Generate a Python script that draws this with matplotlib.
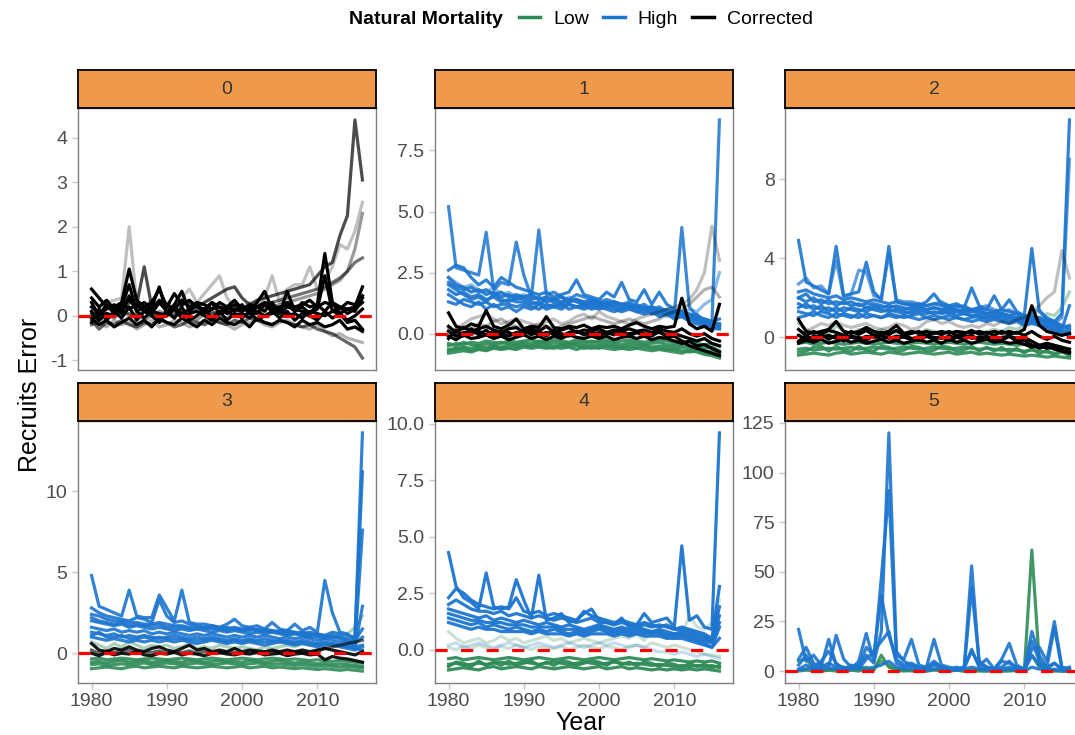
import numpy as np
import matplotlib.pyplot as plt
from matplotlib.lines import Line2D
from matplotlib.ticker import MultipleLocator, FormatStrFormatter

plt.rcParams['font.family'] = ['Liberation Sans', 'DejaVu Sans']
plt.rcParams['axes.unicode_minus'] = False

# -----------------------------
# data, years 1980-2016
# -----------------------------
years = list(range(1980, 2017))

# panel 0 : only corrected runs
p0_c1 = [0.60, 0.40, 0.20, 0.20, 0.30, 1.05, 0.35, 0.20, 0.30, 0.60,
         0.20, 0.50, 0.25, 0.35, 0.20, 0.15, 0.30, 0.20, 0.15, 0.25,
         0.20, 0.10, 0.30, 0.55, 0.15, 0.20, 0.25, 0.10, 0.30, 0.20,
         0.25, 1.40, 0.30, 0.20, 0.15, 0.20, 0.65]
p0_c2 = [0.10, -0.10, 0.05, 0.00, 0.20, 0.70, 0.10, -0.05, 0.10, 0.05,
         0.00, 0.15, -0.05, 0.05, 0.10, 0.00, -0.10, 0.05, 0.10, 0.00,
         0.05, -0.05, 0.10, 0.00, 0.05, 0.15, 0.00, 0.05, -0.05, 0.10,
         0.05, 0.00, 0.10, 0.05, -0.10, 0.00, 0.15]
p0_c3 = [-0.15, 0.15, -0.10, 0.10, -0.05, 0.20, -0.10, 0.10, 0.00, -0.15,
         0.10, -0.05, 0.20, -0.10, 0.00, 0.15, -0.05, 0.10, -0.10, 0.05,
         -0.05, 0.10, -0.10, 0.00, 0.10, -0.05, 0.10, -0.10, 0.05, 0.00,
         -0.10, 0.10, -0.05, 0.05, -0.15, -0.10, -0.30]
p0_c4 = [0.30, 0.00, 0.25, 0.05, 0.30, 0.15, 0.25, 0.10, 0.20, 0.65,
         0.05, 0.25, 0.55, 0.10, 0.25, 0.10, 0.30, 0.05, 0.20, 0.10,
         0.25, 0.05, 0.20, 0.10, 0.30, 0.05, 0.55, 0.10, 0.20, 0.05,
         0.25, 0.10, 0.30, 0.05, 0.15, 0.10, 0.40]
p0_c5 = [0.05, -0.10, 0.20, 0.15, 0.10, 0.30, 0.25, 1.10, 0.20, 0.30,
         0.15, 0.20, 0.25, 0.30, 0.20, 0.30, 0.40, 0.50, 0.60, 0.65,
         0.40, 0.25, 0.35, 0.40, 0.45, 0.50, 0.55, 0.60, 0.65, 0.70,
         0.90, 1.10, 1.20, 1.80, 2.25, 4.40, 3.05]
p0_c6 = [0.20, 0.10, 0.30, 0.35, 0.40, 2.00, 0.30, 0.20, 0.35, 0.25,
         0.30, 0.20, 0.40, 0.60, 0.30, 0.50, 0.70, 0.90, 0.40, 0.20,
         0.10, 0.30, 0.20, 0.40, 0.90, 0.30, 0.60, 0.70, 0.70, 1.10,
         0.60, 0.80, 1.10, 1.60, 1.50, 1.90, 2.55]
p0_c7 = [-0.20, -0.10, 0.00, -0.05, 0.10, 0.00, 0.05, -0.10, 0.00, 0.10,
         0.05, -0.05, 0.10, 0.00, -0.10, 0.05, 0.10, 0.00, -0.05, 0.10,
         0.05, 0.00, 0.10, 0.15, 0.20, 0.25, 0.30, 0.35, 0.40, 0.45,
         0.50, 0.60, 0.70, 0.80, 1.00, 1.50, 2.30]
p0_c8 = [0.00, 0.10, 0.05, 0.00, 0.10, 0.05, 0.00, 0.10, 0.05, 0.00,
         0.10, 0.05, 0.00, 0.10, 0.15, 0.10, 0.05, 0.10, 0.15, 0.20,
         0.15, 0.10, 0.20, 0.25, 0.30, 0.35, 0.40, 0.45, 0.50, 0.55,
         0.60, 0.65, 0.75, 0.85, 1.00, 1.20, 1.30]
p0_c9 = [-0.10, -0.30, -0.15, -0.20, -0.10, -0.20, -0.25, -0.15, -0.20, -0.10,
         -0.15, -0.25, -0.20, -0.10, -0.15, -0.20, -0.10, -0.15, -0.20, -0.10,
         -0.15, -0.05, -0.10, -0.15, -0.20, -0.10, -0.15, -0.20, -0.25, -0.20,
         -0.30, -0.35, -0.40, -0.50, -0.60, -0.70, -0.95]
p0_c10 = [-0.20, -0.15, -0.25, -0.10, -0.20, -0.15, -0.30, -0.20, -0.10, -0.25,
          -0.20, -0.10, -0.15, -0.25, -0.20, -0.10, -0.05, -0.15, -0.20, -0.30,
          -0.20, -0.15, -0.10, -0.20, -0.25, -0.15, -0.10, -0.20, -0.25, -0.30,
          -0.20, -0.35, -0.45, -0.40, -0.50, -0.55, -0.60]
p0_c11 = [0.40, 0.20, 0.35, 0.15, 0.25, 0.35, 0.20, 0.30, 0.15, 0.35,
          0.25, 0.15, 0.35, 0.20, 0.30, 0.25, 0.15, 0.30, 0.20, 0.35,
          0.15, 0.25, 0.20, 0.30, 0.25, 0.15, 0.30, 0.20, 0.25, 0.35,
          0.20, 0.30, 0.25, 0.15, 0.30, 0.25, 0.45]
p0_c12 = [-0.05, -0.20, -0.10, -0.25, -0.15, -0.05, -0.20, -0.10, -0.25, -0.05,
          -0.15, -0.20, -0.05, -0.15, -0.25, -0.10, -0.20, -0.05, -0.15, -0.20,
          -0.10, -0.25, -0.05, -0.15, -0.20, -0.10, -0.15, -0.25, -0.10, -0.20,
          -0.15, -0.25, -0.20, -0.10, -0.30, -0.25, -0.35]
p0_c13 = [0.20, 0.05, 0.15, 0.25, 0.05, 0.45, 0.10, 0.20, 0.05, 0.30,
          0.10, 0.20, 0.05, 0.15, 0.25, 0.05, 0.15, 0.20, 0.05, 0.15,
          0.10, 0.20, 0.05, 0.25, 0.10, 0.05, 0.20, 0.15, 0.10, 0.05,
          0.15, 0.90, 0.10, 0.20, 0.05, 0.15, 0.30]

# panel 1
p1_h1 = [5.20, 2.70, 2.60, 2.50, 2.40, 4.15, 1.80, 2.10, 2.00, 3.75,
         2.40, 1.50, 4.25, 1.60, 1.70, 1.50, 1.40, 1.60, 1.50, 1.40,
         1.30, 1.40, 1.30, 1.20, 1.30, 1.10, 1.20, 1.00, 1.10, 0.90,
         0.80, 4.35, 1.10, 0.70, 0.50, 0.40, 8.75]
p1_h2 = [2.60, 2.80, 2.70, 2.30, 2.00, 2.20, 1.90, 2.30, 2.10, 1.90,
         1.80, 1.70, 1.60, 1.70, 1.50, 1.60, 1.70, 2.20, 1.60, 1.50,
         1.40, 1.70, 1.50, 2.10, 1.40, 1.30, 1.80, 1.20, 1.70, 1.20,
         1.00, 0.90, 0.80, 0.70, 0.60, 0.50, 0.40]
p1_h3 = [2.00, 1.80, 1.60, 1.40, 1.50, 1.30, 1.60, 1.40, 1.30, 1.50,
         1.40, 1.30, 1.20, 1.40, 1.30, 1.20, 1.30, 1.40, 1.20, 1.30,
         1.20, 1.10, 1.30, 1.20, 1.10, 1.20, 1.00, 1.10, 1.00, 0.90,
         0.80, 0.90, 0.70, 0.80, 0.50, 0.40, 0.30]
p1_h4 = [1.60, 1.40, 1.20, 1.10, 1.30, 1.00, 1.20, 1.00, 1.10, 0.90,
         1.10, 1.00, 1.20, 1.00, 1.10, 1.20, 1.00, 1.10, 1.20, 1.00,
         1.10, 1.00, 0.90, 1.00, 1.10, 0.90, 0.80, 0.90, 0.70, 0.80,
         0.60, 0.70, 0.50, 0.40, 0.30, 0.20, 0.20]
p1_h5 = [2.30, 2.10, 1.90, 2.00, 1.80, 1.70, 1.90, 1.60, 1.70, 1.50,
         1.60, 1.50, 1.40, 1.50, 1.40, 1.30, 1.50, 1.40, 1.30, 1.20,
         1.30, 1.20, 1.10, 1.20, 1.00, 1.10, 1.00, 0.90, 1.00, 0.70,
         0.90, 0.80, 1.00, 0.90, 1.20, 1.40, 2.50]
p1_h6 = [2.30, 2.00, 1.90, 1.70, 1.80, 1.60, 1.70, 1.50, 1.60, 1.40,
         1.50, 1.40, 1.50, 1.30, 1.40, 1.30, 1.40, 1.30, 1.20, 1.30,
         1.20, 1.30, 1.20, 1.10, 1.20, 1.10, 1.00, 1.10, 0.90, 1.00,
         0.90, 0.80, 0.70, 0.60, 0.50, 0.40, 0.30]
p1_h7 = [1.30, 1.20, 1.40, 1.30, 1.20, 1.30, 1.10, 1.20, 1.20, 1.10,
         1.20, 1.10, 1.00, 1.20, 1.10, 1.00, 1.20, 1.10, 1.00, 1.10,
         1.00, 1.10, 1.00, 0.90, 1.00, 0.90, 1.00, 0.80, 0.90, 0.80,
         0.70, 0.80, 0.60, 0.50, 0.40, 0.30, 0.40]
p1_h8 = [1.80, 1.60, 1.70, 1.50, 1.60, 1.40, 1.50, 1.30, 1.40, 1.30,
         1.30, 1.20, 1.30, 1.10, 1.20, 1.10, 1.20, 1.10, 1.10, 1.20,
         1.10, 1.20, 1.10, 1.00, 1.10, 1.00, 0.90, 1.00, 0.80, 0.90,
         0.80, 0.70, 0.60, 0.60, 0.40, 0.30, 0.20]
p1_h9 = [2.10, 1.90, 1.80, 1.90, 1.70, 1.80, 1.60, 1.70, 1.50, 1.60,
         1.50, 1.60, 1.40, 1.50, 1.40, 1.50, 1.30, 1.40, 1.30, 1.40,
         1.30, 1.20, 1.30, 1.20, 1.20, 1.10, 1.10, 1.00, 1.00, 0.90,
         0.90, 0.80, 0.80, 0.70, 0.60, 0.50, 0.60]
p1_l1 = [-0.50, -0.40, -0.45, -0.35, -0.40, -0.30, -0.35, -0.40, -0.30, -0.35,
         -0.30, -0.25, -0.35, -0.30, -0.25, -0.30, -0.35, -0.25, -0.30, -0.35,
         -0.30, -0.25, -0.35, -0.30, -0.25, -0.30, -0.35, -0.30, -0.25, -0.30,
         -0.40, -0.30, -0.35, -0.40, -0.45, -0.40, -0.50]
p1_l2 = [-0.65, -0.60, -0.55, -0.60, -0.50, -0.55, -0.50, -0.55, -0.45, -0.50,
         -0.45, -0.50, -0.40, -0.45, -0.50, -0.45, -0.40, -0.45, -0.50, -0.45,
         -0.50, -0.45, -0.50, -0.55, -0.45, -0.50, -0.45, -0.55, -0.50, -0.55,
         -0.60, -0.55, -0.65, -0.60, -0.75, -0.70, -0.80]
p1_l3 = [-0.80, -0.75, -0.70, -0.75, -0.65, -0.70, -0.60, -0.65, -0.60, -0.65,
         -0.55, -0.60, -0.55, -0.60, -0.55, -0.60, -0.55, -0.65, -0.55, -0.60,
         -0.55, -0.60, -0.65, -0.60, -0.65, -0.60, -0.65, -0.70, -0.65, -0.70,
         -0.75, -0.80, -0.70, -0.75, -0.85, -0.90, -1.00]
p1_l4 = [-0.40, -0.50, -0.35, -0.45, -0.50, -0.40, -0.45, -0.35, -0.40, -0.45,
         -0.35, -0.40, -0.30, -0.40, -0.35, -0.40, -0.45, -0.35, -0.40, -0.30,
         -0.40, -0.35, -0.40, -0.45, -0.35, -0.40, -0.45, -0.40, -0.35, -0.45,
         -0.50, -0.45, -0.50, -0.55, -0.60, -0.55, -0.70]
p1_l5 = [-0.70, -0.65, -0.60, -0.70, -0.60, -0.65, -0.55, -0.60, -0.55, -0.60,
         -0.50, -0.55, -0.50, -0.55, -0.60, -0.50, -0.55, -0.50, -0.60, -0.55,
         -0.60, -0.50, -0.55, -0.60, -0.55, -0.60, -0.55, -0.60, -0.60, -0.65,
         -0.65, -0.70, -0.75, -0.70, -0.80, -0.85, -0.90]
p1_c1 = [0.85, 0.30, 0.20, 0.40, 0.30, 0.95, 0.30, 0.20, 0.35, 0.60,
         0.20, 0.30, 0.25, 0.70, 0.25, 0.20, 0.30, 0.25, 0.35, 0.20,
         0.30, 0.25, 0.30, 0.20, 0.35, 0.45, 0.30, 0.20, 0.30, 0.25,
         0.30, 1.45, 0.40, 0.20, 0.30, 0.10, 1.20]
p1_c2 = [0.10, -0.10, 0.05, 0.00, 0.10, -0.05, 0.10, 0.00, -0.10, 0.05,
         0.00, 0.10, -0.05, 0.05, 0.00, -0.10, 0.05, 0.10, 0.00, -0.05,
         0.05, 0.00, 0.10, -0.05, 0.00, 0.05, -0.10, 0.00, 0.05, -0.05,
         0.00, -0.10, -0.20, -0.30, -0.20, -0.40, -0.50]
p1_c3 = [-0.20, 0.15, -0.10, 0.20, -0.05, 0.15, -0.15, 0.10, 0.05, -0.10,
         0.15, -0.05, 0.10, -0.10, 0.15, 0.00, -0.10, 0.10, -0.05, 0.10,
         -0.10, 0.05, -0.05, 0.15, -0.10, 0.05, 0.00, -0.10, 0.10, -0.15,
         -0.10, -0.30, -0.50, -0.60, -0.70, -0.80, -0.90]
p1_c4 = [0.00, 0.20, 0.40, 0.60, 0.70, 0.80, 0.60, 0.40, 0.50, 0.60,
         0.50, 0.40, 0.30, 0.50, 0.60, 0.40, 0.50, 0.70, 0.80, 0.60,
         0.90, 0.70, 0.60, 0.50, 0.40, 0.60, 0.70, 0.80, 0.90, 1.00,
         1.10, 1.20, 1.40, 1.80, 2.50, 4.40, 3.00]
p1_c5 = [0.20, 0.10, 0.30, 0.20, 0.40, 0.30, 0.50, 0.60, 0.40, 0.30,
         0.20, 0.30, 0.40, 0.30, 0.20, 0.30, 0.40, 0.50, 0.60, 0.70,
         0.60, 0.50, 0.40, 0.50, 0.60, 0.50, 0.40, 0.50, 0.60, 0.80,
         0.90, 1.00, 1.20, 1.50, 1.80, 1.90, 1.50]
p1_c6 = [0.30, 0.05, 0.25, 0.10, 0.20, 0.30, 0.15, 0.05, 0.20, 0.25,
         0.05, 0.20, 0.10, 0.30, 0.05, 0.15, 0.25, 0.05, 0.15, 0.10,
         0.20, 0.05, 0.15, 0.10, 0.20, 0.10, 0.15, 0.05, 0.20, 0.10,
         0.05, 0.20, 0.00, -0.10, 0.00, -0.20, -0.30]
p1_c7 = [-0.10, -0.25, -0.05, -0.20, -0.15, -0.05, -0.20, -0.10, -0.25, -0.15,
         -0.05, -0.20, -0.10, -0.25, -0.10, -0.20, -0.05, -0.15, -0.20, -0.10,
         -0.20, -0.10, -0.25, -0.15, -0.10, -0.20, -0.10, -0.25, -0.15, -0.20,
         -0.30, -0.40, -0.30, -0.50, -0.45, -0.60, -0.75]

# panel 2
p2_h1 = [4.90, 2.80, 2.60, 2.40, 2.20, 4.60, 2.10, 2.20, 2.30, 3.80,
         2.30, 1.90, 4.60, 1.80, 1.70, 1.70, 1.60, 1.80, 2.20, 1.70,
         1.60, 1.70, 1.50, 2.50, 1.60, 1.40, 2.10, 1.40, 1.90, 1.30,
         1.10, 4.50, 1.30, 1.00, 0.80, 1.20, 11.00]
p2_h2 = [2.70, 3.00, 2.50, 2.60, 2.20, 3.90, 2.00, 2.20, 3.40, 3.30,
         2.10, 2.00, 4.20, 1.90, 1.80, 1.80, 1.70, 1.60, 1.70, 1.80,
         1.60, 1.50, 1.60, 1.40, 1.50, 1.60, 1.40, 1.30, 1.40, 1.20,
         1.00, 1.20, 1.40, 0.90, 0.70, 1.00, 9.00]
p2_h3 = [2.00, 1.80, 2.00, 1.70, 1.90, 1.60, 1.80, 1.60, 1.70, 1.50,
         1.60, 1.50, 1.60, 1.50, 1.40, 1.50, 1.60, 1.40, 1.50, 1.40,
         1.50, 1.30, 1.40, 1.30, 1.40, 1.20, 1.30, 1.20, 1.10, 1.20,
         1.00, 1.10, 0.90, 0.80, 0.70, 0.50, 0.40]
p2_h4 = [1.30, 1.20, 1.10, 1.30, 1.20, 1.00, 1.20, 1.10, 1.00, 1.20,
         1.10, 1.00, 1.20, 1.10, 1.00, 1.10, 1.20, 1.00, 1.10, 1.00,
         1.10, 1.00, 0.90, 1.00, 1.10, 0.90, 1.00, 0.90, 0.80, 0.90,
         0.70, 0.80, 0.60, 0.50, 0.40, 0.30, 0.20]
p2_h5 = [1.70, 1.50, 1.60, 1.40, 1.50, 1.30, 1.50, 1.40, 1.30, 1.50,
         1.40, 1.30, 1.40, 1.30, 1.20, 1.30, 1.40, 1.30, 1.20, 1.30,
         1.20, 1.30, 1.20, 1.10, 1.20, 1.10, 1.00, 1.10, 1.00, 0.90,
         0.80, 0.90, 0.80, 0.70, 0.60, 0.40, 1.60]
p2_h6 = [2.30, 2.40, 2.20, 2.10, 2.00, 2.10, 1.90, 2.00, 1.90, 1.80,
         1.90, 1.80, 1.70, 1.80, 1.70, 1.60, 1.70, 1.60, 1.70, 1.60,
         1.50, 1.60, 1.50, 1.40, 1.50, 1.40, 1.30, 1.40, 1.30, 1.20,
         1.10, 1.00, 1.00, 0.90, 0.80, 0.60, 0.50]
p2_h7 = [1.00, 1.10, 1.30, 1.10, 1.00, 1.20, 1.10, 1.00, 1.20, 1.00,
         1.10, 1.00, 1.10, 1.00, 1.10, 1.00, 0.90, 1.00, 0.90, 1.00,
         0.90, 1.00, 0.90, 0.80, 0.90, 0.80, 0.90, 0.80, 0.70, 0.80,
         0.60, 0.70, 0.60, 0.50, 0.30, 0.20, 0.10]
p2_h8 = [1.50, 1.70, 1.40, 1.60, 1.30, 1.50, 1.30, 1.50, 1.40, 1.30,
         1.50, 1.40, 1.30, 1.40, 1.30, 1.20, 1.30, 1.20, 1.30, 1.20,
         1.30, 1.10, 1.20, 1.10, 1.00, 1.00, 1.10, 1.00, 0.90, 1.00,
         0.90, 0.80, 0.70, 0.60, 0.50, 0.30, 0.30]
p2_h9 = [2.00, 2.20, 1.80, 1.90, 1.70, 1.80, 1.70, 1.80, 1.60, 1.70,
         1.70, 1.60, 1.50, 1.60, 1.50, 1.40, 1.50, 1.40, 1.50, 1.40,
         1.40, 1.40, 1.30, 1.30, 1.30, 1.20, 1.20, 1.20, 1.10, 1.00,
         1.00, 0.90, 0.90, 0.80, 0.70, 0.50, 0.60]
p2_l1 = [-0.30, -0.25, -0.35, -0.30, -0.25, -0.30, -0.35, -0.30, -0.25, -0.30,
         -0.35, -0.30, -0.25, -0.30, -0.35, -0.30, -0.25, -0.30, -0.35, -0.30,
         -0.25, -0.30, -0.35, -0.30, -0.25, -0.30, -0.35, -0.30, -0.35, -0.40,
         -0.35, -0.40, -0.45, -0.50, -0.45, -0.55, -0.60]
p2_l2 = [-0.60, -0.55, -0.65, -0.60, -0.55, -0.60, -0.55, -0.50, -0.60, -0.55,
         -0.50, -0.55, -0.60, -0.55, -0.50, -0.55, -0.60, -0.55, -0.50, -0.55,
         -0.60, -0.55, -0.50, -0.55, -0.60, -0.55, -0.60, -0.65, -0.60, -0.65,
         -0.70, -0.65, -0.70, -0.75, -0.80, -0.75, -0.85]
p2_l3 = [-0.90, -0.85, -0.80, -0.85, -0.90, -0.80, -0.75, -0.85, -0.80, -0.75,
         -0.80, -0.85, -0.75, -0.80, -0.85, -0.80, -0.75, -0.80, -0.85, -0.80,
         -0.75, -0.85, -0.80, -0.75, -0.85, -0.80, -0.85, -0.90, -0.85, -0.90,
         -0.95, -0.90, -0.95, -1.00, -0.95, -1.00, -1.05]
p2_l4 = [0.70, 0.40, 0.20, 0.30, 0.10, 0.60, 0.30, 0.20, 0.40, 0.30,
         0.20, 0.40, 0.30, 0.20, 0.10, 0.30, 0.20, 0.40, 0.30, 0.20,
         0.30, 0.20, 0.10, 0.30, 0.20, 0.30, 0.40, 0.30, 0.50, 0.40,
         0.60, 0.80, 1.00, 1.20, 1.10, 1.50, 2.30]
p2_l5 = [-0.75, -0.70, -0.50, -0.45, -0.70, -0.45, -0.65, -0.70, -0.45, -0.65,
         -0.70, -0.45, -0.50, -0.70, -0.65, -0.45, -0.50, -0.70, -0.65, -0.45,
         -0.50, -0.70, -0.65, -0.45, -0.70, -0.50, -0.70, -0.50, -0.75, -0.55,
         -0.80, -0.55, -0.85, -0.65, -0.90, -0.70, -0.95]
p2_c1 = [0.90, 0.30, 0.20, 0.30, 0.40, 0.80, 0.30, 0.20, 0.30, 0.50,
         0.30, 0.20, 0.30, 0.60, 0.20, 0.30, 0.20, 0.30, 0.20, 0.30,
         0.20, 0.30, 0.25, 0.20, 0.30, 0.20, 0.30, 0.20, 0.30, 0.20,
         0.40, 1.60, 0.60, 0.30, 0.20, 0.10, 0.20]
p2_c2 = [0.10, -0.10, 0.05, 0.00, 0.10, -0.05, 0.10, 0.00, -0.10, 0.05,
         0.00, 0.10, -0.05, 0.05, 0.00, -0.10, 0.05, 0.10, 0.00, -0.05,
         0.05, 0.00, 0.10, -0.05, 0.00, 0.05, -0.10, 0.00, 0.05, -0.05,
         0.00, -0.20, -0.40, -0.30, -0.40, -0.50, -0.60]
p2_c3 = [-0.20, 0.10, -0.15, 0.15, -0.10, 0.10, -0.20, 0.05, 0.00, -0.15,
         0.10, -0.10, 0.05, -0.15, 0.10, -0.05, -0.15, 0.05, -0.10, 0.05,
         -0.15, 0.00, -0.10, 0.10, -0.15, 0.00, -0.05, -0.15, 0.05, -0.20,
         -0.15, -0.40, -0.55, -0.45, -0.60, -0.70, -0.80]
p2_c4 = [0.10, 0.30, 0.50, 0.70, 0.60, 0.80, 0.60, 0.50, 0.60, 0.70,
         0.50, 0.40, 0.50, 0.70, 0.60, 0.40, 0.50, 0.80, 0.90, 0.70,
         0.80, 0.60, 0.50, 0.60, 0.50, 0.70, 0.60, 0.80, 0.70, 0.90,
         1.00, 1.30, 1.60, 2.00, 2.30, 4.40, 3.00]
p2_c5 = [0.40, 0.10, 0.30, 0.15, 0.35, 0.25, 0.10, 0.30, 0.15, 0.35,
         0.10, 0.25, 0.15, 0.35, 0.10, 0.20, 0.30, 0.10, 0.25, 0.15,
         0.30, 0.10, 0.20, 0.35, 0.15, 0.25, 0.10, 0.30, 0.15, 0.25,
         0.10, 0.30, 0.05, -0.10, 0.05, -0.15, -0.25]
p2_c6 = [-0.30, -0.15, -0.25, -0.10, -0.30, -0.20, -0.10, -0.25, -0.15, -0.30,
         -0.20, -0.10, -0.25, -0.15, -0.30, -0.20, -0.10, -0.25, -0.15, -0.30,
         -0.10, -0.25, -0.15, -0.30, -0.20, -0.10, -0.25, -0.20, -0.30, -0.25,
         -0.35, -0.50, -0.40, -0.55, -0.50, -0.65, -0.75]

# panel 3
p3_h1 = [4.80, 2.90, 2.70, 2.50, 2.30, 3.90, 2.30, 2.20, 2.20, 3.60,
         2.80, 2.00, 3.90, 1.90, 1.80, 1.80, 1.70, 1.60, 1.80, 2.10,
         1.70, 1.60, 1.70, 1.50, 1.90, 1.50, 1.40, 1.80, 1.40, 1.60,
         1.30, 4.50, 2.50, 1.30, 1.20, 0.80, 13.60]
p3_h2 = [2.80, 2.50, 2.30, 2.20, 2.10, 2.00, 2.20, 2.10, 1.90, 3.30,
         2.30, 1.90, 2.00, 1.80, 1.70, 1.60, 1.70, 1.60, 1.50, 1.60,
         1.50, 1.60, 1.40, 1.50, 1.40, 1.30, 1.40, 1.30, 1.20, 1.30,
         1.20, 1.10, 1.30, 1.20, 1.10, 1.00, 11.20]
p3_h3 = [2.00, 1.90, 1.80, 1.70, 1.80, 1.60, 1.70, 1.60, 1.50, 1.60,
         1.50, 1.40, 1.50, 1.40, 1.50, 1.40, 1.30, 1.40, 1.30, 1.40,
         1.30, 1.20, 1.30, 1.20, 1.30, 1.20, 1.10, 1.20, 1.10, 1.00,
         1.00, 0.90, 1.00, 0.90, 0.70, 0.50, 7.60]
p3_h4 = [1.30, 1.20, 1.10, 1.20, 1.00, 1.10, 1.00, 1.10, 1.00, 0.90,
         1.00, 1.10, 1.00, 0.90, 1.00, 0.90, 1.00, 0.90, 0.80, 0.90,
         0.80, 0.90, 0.80, 0.90, 0.80, 0.70, 0.80, 0.70, 0.80, 0.70,
         0.60, 0.70, 0.60, 0.50, 0.40, 0.30, 2.90]
p3_h5 = [1.00, 0.90, 0.80, 0.90, 0.80, 0.70, 0.80, 0.70, 0.80, 0.70,
         0.80, 0.70, 0.80, 0.70, 0.60, 0.70, 0.80, 0.70, 0.60, 0.70,
         0.60, 0.70, 0.60, 0.50, 0.60, 0.70, 0.60, 0.50, 0.60, 0.50,
         0.40, 0.50, 0.60, 0.50, 0.40, 0.30, 0.20]
p3_h6 = [2.40, 2.30, 2.10, 2.00, 2.00, 1.90, 1.90, 1.80, 1.80, 1.90,
         1.80, 1.70, 1.70, 1.60, 1.60, 1.50, 1.60, 1.50, 1.60, 1.50,
         1.40, 1.50, 1.40, 1.40, 1.30, 1.40, 1.30, 1.20, 1.30, 1.20,
         1.10, 1.10, 1.00, 1.00, 0.90, 0.80, 1.50]
p3_h7 = [1.60, 1.50, 1.40, 1.50, 1.30, 1.40, 1.30, 1.40, 1.20, 1.30,
         1.20, 1.30, 1.20, 1.10, 1.20, 1.10, 1.20, 1.10, 1.00, 1.10,
         1.00, 1.10, 1.00, 1.10, 1.00, 0.90, 1.00, 0.90, 1.00, 0.90,
         0.80, 0.90, 0.80, 0.70, 0.60, 0.40, 0.50]
p3_h8 = [2.20, 2.00, 1.90, 1.80, 1.90, 1.70, 1.80, 1.70, 1.70, 1.80,
         1.60, 1.60, 1.60, 1.50, 1.50, 1.60, 1.50, 1.50, 1.40, 1.50,
         1.40, 1.40, 1.50, 1.30, 1.40, 1.30, 1.20, 1.30, 1.20, 1.10,
         1.20, 1.00, 1.10, 1.00, 0.80, 0.60, 1.00]
p3_h9 = [1.10, 1.30, 1.00, 1.00, 1.10, 0.90, 0.90, 1.00, 0.90, 1.00,
         0.90, 0.90, 0.90, 0.80, 0.80, 0.80, 0.90, 0.80, 0.70, 0.80,
         0.70, 0.80, 0.70, 0.70, 0.70, 0.80, 0.70, 0.60, 0.70, 0.60,
         0.50, 0.60, 0.50, 0.40, 0.30, 0.20, 0.40]
p3_l1 = [-0.35, -0.30, -0.40, -0.35, -0.30, -0.35, -0.40, -0.35, -0.30, -0.35,
         -0.40, -0.35, -0.30, -0.35, -0.40, -0.35, -0.30, -0.35, -0.40, -0.35,
         -0.30, -0.35, -0.40, -0.35, -0.30, -0.35, -0.40, -0.35, -0.40, -0.45,
         -0.40, -0.45, -0.50, -0.45, -0.50, -0.55, -0.60]
p3_l2 = [-0.70, -0.65, -0.75, -0.70, -0.65, -0.70, -0.65, -0.60, -0.70, -0.65,
         -0.60, -0.65, -0.70, -0.65, -0.60, -0.65, -0.70, -0.65, -0.60, -0.65,
         -0.70, -0.65, -0.60, -0.65, -0.70, -0.65, -0.70, -0.75, -0.70, -0.75,
         -0.80, -0.75, -0.80, -0.85, -0.80, -0.85, -0.90]
p3_l3 = [-0.95, -0.90, -0.85, -0.90, -0.95, -0.85, -0.80, -0.90, -0.85, -0.80,
         -0.85, -0.90, -0.80, -0.85, -0.90, -0.85, -0.80, -0.85, -0.90, -0.85,
         -0.80, -0.90, -0.85, -0.80, -0.90, -0.85, -0.90, -0.95, -0.90, -0.95,
         -1.00, -0.95, -1.00, -1.05, -1.00, -1.05, -1.10]
p3_l4 = [0.70, 0.50, 0.30, 0.60, 0.40, 0.70, 0.50, 0.30, 0.50, 0.40,
         0.50, 0.30, 0.40, 0.60, 0.30, 0.40, 0.30, 0.50, 0.40, 0.30,
         0.40, 0.30, 0.20, 0.40, 0.30, 0.40, 0.50, 0.40, 0.60, 0.50,
         0.60, 0.90, 1.20, 1.10, 1.20, 1.60, 2.30]
p3_l5 = [-0.55, -0.50, -0.60, -0.50, -0.45, -0.55, -0.50, -0.45, -0.55, -0.50,
         -0.45, -0.50, -0.55, -0.45, -0.50, -0.55, -0.50, -0.45, -0.55, -0.50,
         -0.55, -0.45, -0.50, -0.55, -0.50, -0.45, -0.55, -0.60, -0.55, -0.60,
         -0.65, -0.60, -0.70, -0.65, -0.70, -0.75, -0.80]
p3_c1 = [0.60, 0.20, 0.10, 0.30, 0.20, 0.40, 0.20, 0.10, 0.30, 0.40,
         0.20, 0.10, 0.30, 0.50, 0.20, 0.30, 0.10, 0.20, 0.10, 0.30,
         0.10, 0.20, 0.15, 0.10, 0.20, 0.10, 0.20, 0.10, 0.20, 0.10,
         0.20, 0.30, 0.20, 0.10, 0.00, -0.10, 0.10]
p3_c2 = [0.00, -0.15, 0.05, -0.10, 0.00, -0.05, 0.10, -0.10, -0.15, 0.00,
         -0.05, 0.05, -0.10, 0.00, -0.05, -0.15, 0.00, 0.05, -0.05, -0.10,
         0.00, -0.05, 0.05, -0.10, -0.05, 0.00, -0.15, -0.05, 0.00, -0.10,
         -0.05, -0.40, -0.20, -0.30, -0.35, -0.45, -0.55]
p3_c3 = [0.20, 0.00, 0.15, 0.05, 0.10, 0.20, 0.00, 0.10, 0.05, 0.15,
         0.00, 0.10, 0.05, 0.15, 0.00, 0.10, 0.05, 0.00, 0.10, 0.05,
         0.00, 0.10, 0.05, 0.00, 0.10, 0.05, 0.00, 0.10, 0.05, 0.00,
         0.10, 0.30, 0.40, 0.50, 0.60, 0.70, 0.80]

# panel 4
p4_h1 = [4.30, 2.80, 2.30, 2.10, 1.80, 3.40, 1.90, 1.80, 1.90, 3.10,
         2.20, 1.40, 3.30, 1.30, 1.40, 1.60, 1.20, 1.30, 1.60, 1.80,
         1.30, 1.20, 1.10, 1.40, 1.00, 1.10, 1.60, 1.20, 1.30, 1.40,
         1.00, 4.60, 1.30, 1.50, 1.00, 0.90, 9.60]
p4_h2 = [2.30, 2.70, 2.50, 2.20, 2.00, 1.90, 1.80, 1.90, 1.80, 2.30,
         1.70, 1.60, 1.70, 1.50, 1.60, 1.50, 1.40, 1.30, 1.70, 1.50,
         1.40, 1.30, 1.20, 1.30, 1.20, 1.10, 1.20, 1.10, 1.00, 1.10,
         0.90, 1.00, 0.90, 0.80, 0.70, 0.50, 2.80]
p4_h3 = [1.80, 1.70, 1.60, 1.50, 1.40, 1.50, 1.30, 1.40, 1.30, 1.20,
         1.30, 1.20, 1.10, 1.20, 1.10, 1.00, 1.10, 1.00, 0.90, 1.00,
         1.10, 1.00, 0.90, 1.00, 0.90, 1.00, 0.90, 0.80, 0.90, 0.80,
         0.70, 0.80, 0.70, 0.60, 0.50, 0.40, 1.90]
p4_h4 = [1.40, 1.30, 1.20, 1.10, 1.20, 1.00, 1.10, 1.00, 0.90, 1.00,
         0.90, 0.80, 0.90, 0.80, 0.90, 0.80, 0.70, 0.80, 0.70, 0.80,
         0.90, 0.80, 0.70, 0.80, 0.70, 0.80, 0.70, 0.80, 0.70, 0.60,
         0.70, 0.60, 0.50, 0.40, 0.30, 0.10, 1.00]
p4_h5 = [0.20, 0.30, 0.10, 0.20, 0.30, 0.20, 0.10, 0.20, 0.30, 0.20,
         0.10, 0.20, 0.30, 0.20, 0.10, 0.20, 0.30, 0.20, 0.10, 0.20,
         0.30, 0.20, 0.30, 0.20, 0.10, 0.20, 0.10, 0.00, -0.10, -0.10,
         -0.20, -0.10, -0.20, -0.30, -0.20, -0.30, -0.40]
p4_h6 = [2.00, 2.20, 2.00, 1.80, 1.70, 1.70, 1.60, 1.70, 1.50, 1.60,
         1.50, 1.40, 1.50, 1.40, 1.30, 1.40, 1.30, 1.20, 1.30, 1.40,
         1.20, 1.20, 1.10, 1.20, 1.10, 1.00, 1.10, 1.00, 1.10, 1.00,
         0.90, 0.90, 0.80, 0.70, 0.60, 0.40, 1.50]
p4_h7 = [1.60, 1.50, 1.40, 1.30, 1.30, 1.20, 1.20, 1.20, 1.10, 1.10,
         1.10, 1.00, 1.00, 1.00, 1.00, 0.90, 0.90, 0.90, 0.80, 0.90,
         1.00, 0.90, 0.80, 0.90, 0.80, 0.90, 0.80, 0.70, 0.80, 0.70,
         0.60, 0.70, 0.60, 0.50, 0.40, 0.30, 1.20]
p4_h8 = [1.20, 1.10, 1.00, 0.90, 1.00, 0.90, 0.90, 0.80, 0.80, 0.80,
         0.80, 0.70, 0.80, 0.70, 0.70, 0.70, 0.60, 0.70, 0.60, 0.70,
         0.70, 0.70, 0.60, 0.70, 0.60, 0.70, 0.60, 0.60, 0.60, 0.50,
         0.50, 0.50, 0.40, 0.30, 0.20, 0.10, 0.50]
p4_l1 = [-0.40, -0.35, -0.45, -0.40, -0.35, -0.40, -0.45, -0.40, -0.35, -0.40,
         -0.45, -0.40, -0.35, -0.40, -0.45, -0.40, -0.35, -0.40, -0.45, -0.40,
         -0.35, -0.40, -0.45, -0.40, -0.35, -0.40, -0.45, -0.40, -0.45, -0.50,
         -0.45, -0.50, -0.55, -0.50, -0.55, -0.50, -0.60]
p4_l2 = [-0.65, -0.60, -0.70, -0.65, -0.60, -0.65, -0.60, -0.55, -0.65, -0.60,
         -0.55, -0.60, -0.65, -0.60, -0.55, -0.60, -0.65, -0.60, -0.55, -0.60,
         -0.65, -0.60, -0.55, -0.60, -0.65, -0.60, -0.65, -0.70, -0.65, -0.70,
         -0.75, -0.70, -0.75, -0.70, -0.75, -0.70, -0.80]
p4_l3 = [-0.90, -0.85, -0.80, -0.85, -0.90, -0.80, -0.75, -0.85, -0.80, -0.75,
         -0.80, -0.85, -0.75, -0.80, -0.85, -0.80, -0.75, -0.80, -0.85, -0.80,
         -0.75, -0.85, -0.80, -0.75, -0.85, -0.80, -0.85, -0.90, -0.85, -0.90,
         -0.85, -0.90, -0.85, -0.90, -0.85, -0.90, -0.95]
p4_l4 = [0.80, 0.50, 0.30, 0.40, 0.50, 0.30, 0.40, 0.60, 0.40, 0.50,
         0.30, 0.40, 0.50, 0.60, 0.40, 0.50, 0.30, 0.40, 0.50, 0.40,
         0.30, 0.40, 0.50, 0.60, 0.50, 0.70, 0.40, 0.80, 0.60, 0.50,
         0.60, 0.70, 1.50, 1.00, 0.90, 1.20, 2.20]
p4_l5 = [0.10, 0.00, 0.15, 0.05, 0.20, 0.10, 0.00, 0.15, 0.05, 0.20,
         0.10, 0.00, 0.15, 0.10, 0.05, 0.15, 0.00, 0.10, 0.20, 0.10,
         0.05, 0.15, 0.10, 0.00, 0.15, 0.20, 0.10, 0.30, 0.20, 0.10,
         0.20, 0.10, 0.00, -0.10, -0.20, -0.25, -0.30]
p4_l6 = [-0.75, -0.55, -0.60, -0.75, -0.50, -0.70, -0.55, -0.70, -0.50, -0.70,
         -0.60, -0.50, -0.70, -0.55, -0.70, -0.50, -0.55, -0.70, -0.60, -0.50,
         -0.55, -0.70, -0.50, -0.65, -0.55, -0.70, -0.55, -0.60, -0.75, -0.60,
         -0.65, -0.80, -0.60, -0.75, -0.65, -0.80, -0.70]

# panel 5
p5_h1 = [21.0, 5.0, 8.0, 3.0, 2.0, 18.0, 6.0, 2.0, 3.0, 8.0,
         4.0, 20.0, 120.0, 10.0, 5.0, 3.0, 2.0, 1.0, 3.0, 2.0,
         1.0, 1.0, 2.0, 10.0, 3.0, 6.0, 1.0, 5.0, 4.0, 2.0,
         1.0, 20.0, 8.0, 2.0, 4.0, 1.0, 2.0]
p5_h2 = [6.0, 12.0, 4.0, 2.0, 16.0, 3.0, 2.0, 1.0, 5.0, 19.0,
         5.0, 47.0, 91.0, 8.0, 6.0, 16.0, 3.0, 2.0, 16.0, 3.0,
         2.0, 1.0, 1.0, 53.0, 4.0, 2.0, 1.0, 6.0, 14.0, 3.0,
         1.0, 11.0, 12.0, 5.0, 25.0, 2.0, 1.0]
p5_h3 = [3.0, 8.0, 2.0, 5.0, 10.0, 4.0, 1.0, 3.0, 2.0, 12.0,
         8.0, 38.0, 18.0, 6.0, 3.0, 4.0, 2.0, 1.0, 4.0, 2.0,
         1.0, 2.0, 1.0, 42.0, 5.0, 2.0, 1.0, 2.0, 5.0, 1.0,
         0.5, 15.0, 5.0, 2.0, 22.0, 1.0, 0.5]
p5_h4 = [1.0, 3.0, 1.0, 2.0, 4.0, 2.0, 1.0, 2.0, 1.0, 6.0,
         10.0, 15.0, 20.0, 4.0, 2.0, 3.0, 1.0, 2.0, 5.0, 2.0,
         1.0, 0.5, 1.0, 11.0, 2.0, 1.0, 0.5, 1.0, 2.0, 1.0,
         0.5, 8.0, 3.0, 1.0, 4.0, 0.5, 1.0]
p5_h5 = [0.5, 1.0, 2.0, 1.0, 1.5, 1.0, 0.5, 1.0, 2.0, 1.0,
         2.0, 3.0, 5.0, 2.0, 1.0, 1.5, 1.0, 0.5, 1.0, 1.5,
         1.0, 0.5, 1.0, 2.0, 1.0, 0.5, 1.0, 0.5, 1.0, 0.5,
         0.0, 2.0, 1.0, 0.5, 1.0, 0.0, 0.5]
p5_l1 = [0.0, 0.5, 0.0, 0.0, 0.5, 0.0, 0.0, 0.5, 0.0, 1.0,
         0.5, 8.0, 2.0, 0.5, 0.0, 0.5, 0.0, 0.0, 0.5, 0.0,
         0.0, 0.5, 0.0, 0.5, 0.0, 0.0, 0.5, 0.0, 0.0, 0.5,
         0.0, 61.0, 4.0, 0.5, 0.0, 0.0, 0.0]
p5_l2 = [5.0, 6.0, 1.0, 0.0, 0.5, 1.0, 0.0, 0.5, 1.0, 2.0,
         1.0, 5.0, 3.0, 1.0, 0.5, 0.0, 0.5, 0.0, 1.0, 0.5,
         0.0, 0.5, 0.0, 1.0, 0.5, 0.0, 0.5, 0.0, 0.5, 0.0,
         0.5, 8.0, 2.0, 0.0, 0.5, 0.0, 0.0]

panel_labels = ["0", "1", "2", "3", "4", "5"]
group_labels = ["Low", "High", "Corrected"]

# -----------------------------
# styles
# -----------------------------
GREEN = "#2E8B57"
BLUE = "#1C75CF"
BLACK = "#000000"
STRIP = "#EF9A4B"
TICKCOL = "#4D4D4D"
LW = 2.3

# (series, alpha) per group, per panel
panels = [
    {"low": [], "high": [],
     "corr": [(p0_c6, 0.25), (p0_c10, 0.3), (p0_c7, 0.4), (p0_c8, 0.55), (p0_c9, 0.6),
              (p0_c5, 0.7), (p0_c12, 1.0), (p0_c3, 1.0), (p0_c2, 1.0), (p0_c11, 1.0),
              (p0_c13, 1.0), (p0_c4, 1.0), (p0_c1, 1.0)]},
    {"low": [(p1_l1, 0.9), (p1_l4, 0.9), (p1_l2, 0.9), (p1_l5, 0.9), (p1_l3, 0.9)],
     "high": [(p1_h5, 0.5), (p1_h7, 0.9), (p1_h4, 0.9), (p1_h8, 0.9), (p1_h3, 0.9),
              (p1_h9, 0.9), (p1_h6, 0.9), (p1_h2, 0.9), (p1_h1, 0.85)],
     "corr": [(p1_c4, 0.25), (p1_c5, 0.3), (p1_c7, 1.0), (p1_c3, 1.0), (p1_c2, 1.0),
              (p1_c6, 1.0), (p1_c1, 1.0)]},
    {"low": [(p2_l4, 0.4), (p2_l1, 0.9), (p2_l2, 0.9), (p2_l5, 0.9), (p2_l3, 0.9)],
     "high": [(p2_h7, 0.9), (p2_h5, 0.9), (p2_h4, 0.9), (p2_h8, 0.9), (p2_h3, 0.9),
              (p2_h9, 0.9), (p2_h6, 0.9), (p2_h2, 0.7), (p2_h1, 0.9)],
     "corr": [(p2_c4, 0.25), (p2_c6, 1.0), (p2_c3, 1.0), (p2_c2, 1.0), (p2_c5, 1.0),
              (p2_c1, 1.0)]},
    {"low": [(p3_l4, 0.4), (p3_l1, 0.9), (p3_l5, 0.9), (p3_l2, 0.9), (p3_l3, 0.9)],
     "high": [(p3_h5, 0.9), (p3_h9, 0.9), (p3_h4, 0.9), (p3_h7, 0.9), (p3_h3, 0.9),
              (p3_h8, 0.9), (p3_h6, 0.9), (p3_h2, 0.9), (p3_h1, 0.9)],
     "corr": [(p3_c3, 0.6), (p3_c2, 0.9), (p3_c1, 0.9)]},
    {"low": [(p4_l4, 0.25), (p4_l5, 0.25), (p4_l1, 0.95), (p4_l6, 0.95), (p4_l2, 0.95),
             (p4_l3, 0.95)],
     "high": [(p4_h5, 0.25), (p4_h8, 0.95), (p4_h4, 0.95), (p4_h7, 0.95), (p4_h3, 0.95),
              (p4_h6, 0.95), (p4_h2, 0.95), (p4_h1, 0.95)],
     "corr": []},
    {"low": [(p5_l2, 0.8), (p5_l1, 0.9)],
     "high": [(p5_h5, 0.9), (p5_h4, 0.9), (p5_h3, 0.9), (p5_h2, 0.9), (p5_h1, 0.9)],
     "corr": []},
]

y_steps = [1, 2.5, 4, 5, 2.5, 25]
y_fmts = ["%d", "%.1f", "%d", "%d", "%.1f", "%d"]

# -----------------------------
# figure
# -----------------------------
fig = plt.figure(figsize=(10.75, 7.35), dpi=100)
W, H = 1075.0, 735.0
col_left = [78, 435, 785]
panel_w = 298
row_top = [108, 421]
panel_h = 262
strip_h = 38

for k, pdata in enumerate(panels):
    r, c = divmod(k, 3)
    x0 = col_left[c] / W
    y0 = (H - row_top[r] - panel_h) / H
    ax = fig.add_axes([x0, y0, panel_w / W, panel_h / H])

    for s, a in pdata["low"]:
        ax.plot(years, s, color=GREEN, alpha=a, lw=LW, solid_joinstyle="round")
    for s, a in pdata["high"]:
        ax.plot(years, s, color=BLUE, alpha=a, lw=LW, solid_joinstyle="round")
    for s, a in pdata["corr"]:
        ax.plot(years, s, color=BLACK, alpha=a, lw=LW, solid_joinstyle="round")

    ax.margins(x=0.05, y=0.05)
    ax.axhline(0, color="red", lw=2.3, ls=(0, (3.8, 4.2)), zorder=5)

    ax.yaxis.set_major_locator(MultipleLocator(y_steps[k]))
    ax.yaxis.set_major_formatter(FormatStrFormatter(y_fmts[k]))
    ax.xaxis.set_major_locator(MultipleLocator(10))
    ax.tick_params(axis="both", colors="#C8C8C8", labelcolor=TICKCOL,
                   labelsize=14, length=4, width=1)
    if r == 0:
        ax.tick_params(axis="x", bottom=False, labelbottom=False)
    for sp in ax.spines.values():
        sp.set_color("#7F7F7F")
        sp.set_linewidth(1.0)

    # facet strip
    sax = fig.add_axes([x0, (H - row_top[r]) / H, panel_w / W, strip_h / H])
    sax.set_facecolor(STRIP)
    sax.set_xticks([])
    sax.set_yticks([])
    for sp in sax.spines.values():
        sp.set_color("black")
        sp.set_linewidth(1.3)
    sax.text(0.5, 0.5, panel_labels[k], ha="center", va="center",
             fontsize=14, color="#333333", transform=sax.transAxes)

# axis titles
fig.text(30 / W, 1 - 395 / H, "Recruits Error", rotation=90, ha="center",
         va="center", fontsize=18)
fig.text(581 / W, 1 - 723 / H, "Year", ha="center", va="center", fontsize=18)

# legend on top
fig.text(349 / W, 1 - 19 / H, "Natural Mortality", fontweight="bold",
         fontsize=14, ha="left", va="center")
handles = [Line2D([], [], color=GREEN, lw=2.5),
           Line2D([], [], color=BLUE, lw=2.5),
           Line2D([], [], color=BLACK, lw=2.5)]
fig.legend(handles, group_labels, ncol=3, loc="center left",
           bbox_to_anchor=(519 / W, 1 - 19 / H), frameon=False, fontsize=14,
           handlelength=1.1, handletextpad=0.65, columnspacing=0.75,
           borderpad=0, borderaxespad=0)

fig.savefig("out.png", dpi=100)
